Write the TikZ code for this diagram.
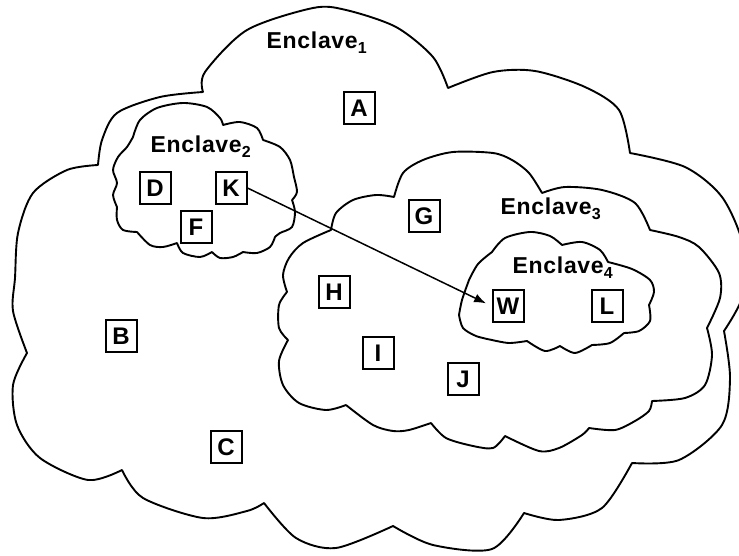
\documentclass[tikz,border=0pt]{standalone}
\usepackage{fontspec}
\setmainfont{Liberation Sans}
\newfontfamily\labfont[LetterSpace=3]{Liberation Sans}
\usetikzlibrary{arrows.meta}
\newcommand\encsub[1]{\raisebox{-5pt}{\fontsize{16}{16}\selectfont #1}}
\tikzset{
  lbox/.style={draw, line width=2pt, minimum width=31pt, minimum height=32pt,
    inner sep=0pt, font=\fontsize{24}{24}\selectfont\bfseries},
  cloudline/.style={line width=1.9pt, line cap=round, line join=round},
  enc/.style={anchor=base west, inner sep=0pt,
    font=\labfont\fontsize{23}{23}\selectfont\bfseries},
  conn/.style={line width=1.5pt, -{Latex[length=12pt,width=9pt]}, shorten >=6pt}
}
\begin{document}
\begin{tikzpicture}[x=1pt,y=-1pt]
\useasboundingbox (0,0) rectangle (739,556);
\clip (0,0) rectangle (739,556);
% Enclave 1 (outer cloud)
\draw[cloudline]
 plot[smooth] coordinates {(203,92) (205,72) (247,30) (313,8) (346,10) (396,27) (433,57) (448,88)}
 plot[smooth] coordinates {(448,88) (493,72) (535,71) (585,87) (619,110) (630,153)}
 plot[smooth] coordinates {(630,153) (685,167) (722,197) (743,245) (743,295) (724,331)}
 plot[smooth] coordinates {(724,331) (730,378) (722,425) (679,460) (632,463)}
 plot[smooth] coordinates {(632,463) (602,508) (559,520) (524,513)}
 plot[smooth] coordinates {(524,513) (492,549) (433,545) (393,526)}
 plot[smooth] coordinates {(393,526) (336,548) (296,538) (264,503)}
 plot[smooth] coordinates {(264,503) (247,511) (203,518) (143,498) (122,470)}
 plot[smooth] coordinates {(122,470) (88,480) (40,458) (17,425) (13,385) (27,353)}
 plot[smooth] coordinates {(27,353) (13,311) (15,278) (18,233) (33,193) (67,170) (98,165)}
 plot[smooth] coordinates {(98,165) (102,140) (117,113) (160,97) (203,92)};
% Enclave 3
\draw[cloudline]
 plot[smooth] coordinates {(394,197) (403,173) (423,160) (453,152) (493,153) (512,160) (529,173) (542,193)}
 plot[smooth] coordinates {(542,193) (565,187) (602,190) (635,203) (650,230)}
 plot[smooth] coordinates {(650,230) (679,237) (699,247) (719,273) (720,298) (707,328)}
 plot[smooth] coordinates {(707,328) (712,355) (705,385) (685,398) (652,401)}
 plot[smooth] coordinates {(652,401) (649,411) (635,421) (615,430) (589,428)}
 plot[smooth] coordinates {(589,428) (582,435) (559,448) (539,451) (505,436)}
 plot[smooth] coordinates {(505,436) (493,448) (473,446) (446,438) (431,423)}
 plot[smooth] coordinates {(431,423) (409,430) (393,431) (373,425) (346,405)}
 plot[smooth] coordinates {(346,405) (326,410) (299,403) (283,385) (279,361) (288,340)}
 plot[smooth] coordinates {(288,340) (279,328) (279,305) (287,292)}
 plot[smooth] coordinates {(287,292) (283,275) (289,258) (303,243) (331,230)}
 plot[smooth] coordinates {(331,230) (336,213) (353,200) (376,195) (394,197)};
% Enclave 4
\draw[cloudline]
 plot[smooth] coordinates {(459,315) (462,300) (469,280)}
 plot[smooth] coordinates {(469,280) (478,264) (492,252)}
 plot[smooth] coordinates {(492,252) (505,238) (530,232) (550,236) (562,245)}
 plot[smooth] coordinates {(562,245) (582,242) (600,250) (608,262)}
 plot[smooth] coordinates {(608,262) (632,269) (650,280) (654,292) (649,305)}
 plot[smooth] coordinates {(649,305) (650,321) (639,331) (624,333)}
 plot[smooth] coordinates {(624,333) (610,343) (592,345)}
 plot[smooth] coordinates {(592,345) (575,353) (560,346)}
 plot[smooth] coordinates {(560,346) (545,351) (527,341)}
 plot[smooth] coordinates {(527,341) (509,343) (492,340)}
 plot[smooth] coordinates {(492,340) (476,336) (463,328) (459,315)};
% Enclave 2
\draw[cloudline]
 plot[smooth] coordinates {(133,137) (140,120) (157,108) (183,103) (207,107) (220,118) (223,125)}
 plot[smooth] coordinates {(223,125) (240,122) (257,128) (263,140)}
 plot[smooth] coordinates {(263,140) (280,147) (290,160) (294,177) (297,192) (292,200)}
 plot[smooth] coordinates {(292,200) (295,212) (292,227) (280,233) (275,237)}
 plot[smooth] coordinates {(275,237) (270,247) (257,253) (243,252)}
 plot[smooth] coordinates {(243,252) (233,257) (220,258) (212,252)}
 plot[smooth] coordinates {(212,252) (200,257) (183,253) (177,243)}
 plot[smooth] coordinates {(177,243) (163,247) (150,245) (137,232)}
 plot[smooth] coordinates {(137,232) (123,230) (117,220) (117,207)}
 plot[smooth] coordinates {(117,207) (113,195) (117,183) (113,170) (118,157) (127,147) (133,137)};
% labels
\node[enc] (e1) at (266.5,49) {Enclave\encsub{1}};
\node[enc] (e2) at (150.5,152.5) {Enclave\encsub{2}};
\node[enc] (e3) at (500.5,215) {Enclave\encsub{3}};
\node[enc] (e4) at (512.5,273) {Enclave\encsub{4}};
% boxes
\node[lbox] (A) at (359,108) {A};
\node[lbox] (D) at (155,188) {D};
\node[lbox] (K) at (231,188) {K};
\node[lbox] (F) at (196,227) {F};
\node[lbox] (G) at (424,216) {G};
\node[lbox] (W) at (508,306) {W};
\node[lbox] (L) at (607,306) {L};
\node[lbox] (H) at (334,292) {H};
\node[lbox] (B) at (121,336) {B};
\node[lbox] (I) at (378,353) {I};
\node[lbox] (J) at (463,379) {J};
\node[lbox] (C) at (226,447) {C};
% connector
\draw[conn] (K.east) -- (W.west);
\end{tikzpicture}
\end{document}
